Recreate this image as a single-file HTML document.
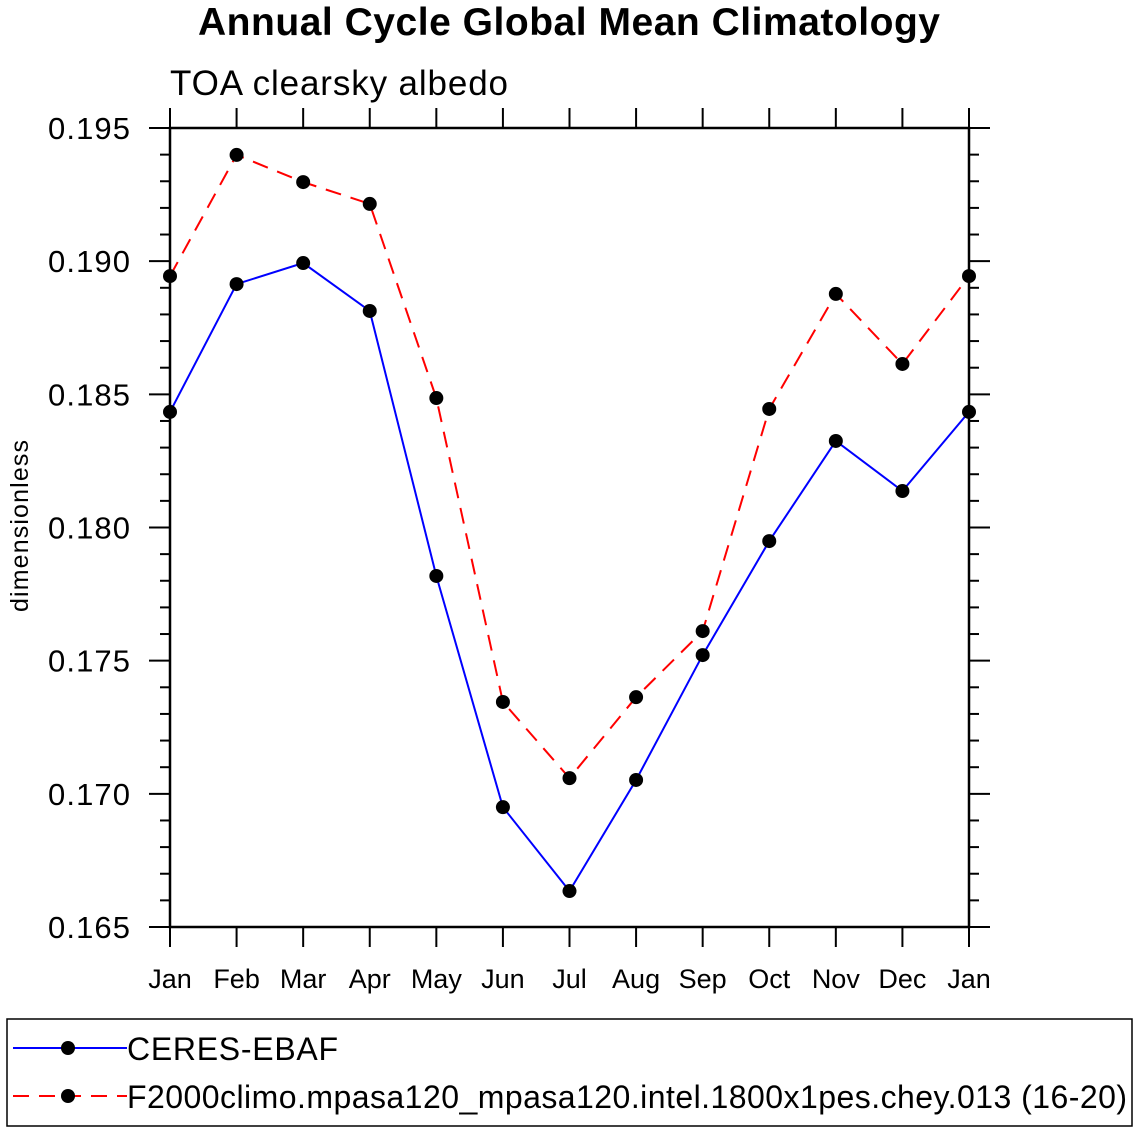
<!DOCTYPE html>
<html><head><meta charset="utf-8"><style>
body{margin:0;background:#fff;}
svg{display:block;font-family:"Liberation Sans",sans-serif;}
</style></head><body>
<svg id="chart" width="1138" height="1132">
<text x="569" y="35" text-anchor="middle" font-size="39" font-weight="bold" textLength="742">Annual Cycle Global Mean Climatology</text>
<text x="170" y="95" font-size="35" textLength="338">TOA clearsky albedo</text>
<text transform="translate(28,526) rotate(-90)" text-anchor="middle" font-size="25" textLength="172">dimensionless</text>
<g id="axes"></g>
<g id="series"></g>
<rect x="7" y="1019" width="1125" height="107" fill="none" stroke="#000" stroke-width="1.5"/>
<g>
<line x1="13" y1="1048" x2="127" y2="1048" stroke="#0000ff" stroke-width="2"/>
<circle cx="68" cy="1048" r="7" fill="#000"/>
<text x="127" y="1060" font-size="32" textLength="211">CERES-EBAF</text>
</g>
<g>
<line x1="13" y1="1096" x2="127" y2="1096" stroke="#ff0000" stroke-width="2" stroke-dasharray="16,10"/>
<circle cx="68" cy="1096" r="7" fill="#000"/>
<text x="127" y="1108" font-size="32" textLength="1000">F2000climo.mpasa120_mpasa120.intel.1800x1pes.chey.013 (16-20)</text>
</g>
</svg>
<script>
const months = ["Jan","Feb","Mar","Apr","May","Jun","Jul","Aug","Sep","Oct","Nov","Dec","Jan"];
const ceres = [0.18434,0.18914,0.18993,0.18813,0.17818,0.16950,0.16635,0.17052,0.17521,0.17949,0.18325,0.18137,0.18434];
const model = [0.18944,0.19399,0.19297,0.19215,0.18486,0.17345,0.17059,0.17363,0.17611,0.18445,0.18877,0.18614,0.18944];
const yTicks = [0.165,0.170,0.175,0.180,0.185,0.190,0.195];
const yTickLabels = ["0.165","0.170","0.175","0.180","0.185","0.190","0.195"];

const L=170,R=969,T=128,B=927,ymin=0.165,ymax=0.195;
const xs=i=>L+(R-L)*i/(months.length-1);
const ys=v=>B-(v-ymin)/(ymax-ymin)*(B-T);
const NS="http://www.w3.org/2000/svg";
function mk(tag,attrs,parent){const e=document.createElementNS(NS,tag);for(const k in attrs)e.setAttribute(k,attrs[k]);parent.appendChild(e);return e;}
const ax=document.getElementById('axes');
const frame=mk('rect',{x:L,y:T,width:R-L,height:B-T,fill:'none',stroke:'#000','stroke-width':2.5},ax);


for(let k=0;k<=30;k++){
  const v=ymin+k*0.001, y=ys(v), major=k%5===0, len=major?21:10;
  mk('line',{x1:L-len,y1:y,x2:L,y2:y,stroke:'#000','stroke-width':2},ax);
  mk('line',{x1:R,y1:y,x2:R+len,y2:y,stroke:'#000','stroke-width':2},ax);
}
yTicks.forEach((v,i)=>{
  const t=mk('text',{x:130,y:ys(v)+11,'text-anchor':'end','font-size':31,textLength:82},ax);
  t.textContent=yTickLabels[i];
  
  
});
months.forEach((m,i)=>{
  const x=xs(i);
  mk('line',{x1:x,y1:T-20,x2:x,y2:T,stroke:'#000','stroke-width':2},ax);
  mk('line',{x1:x,y1:B,x2:x,y2:B+20,stroke:'#000','stroke-width':2},ax);
  const t=mk('text',{x:x,y:988,'text-anchor':'middle','font-size':27},ax);
  t.textContent=m;
  
  
});
const sg=document.getElementById('series');
function draw(vals,color,dash,name){
  const g=mk('g',{},sg);
  
  
  const pts=vals.map((v,i)=>xs(i)+','+ys(v)).join(' ');
  const a={points:pts,fill:'none',stroke:color,'stroke-width':2};
  if(dash)a['stroke-dasharray']=dash;
  mk('polyline',a,g);
  vals.forEach((v,i)=>{
    const c=mk('circle',{cx:xs(i),cy:ys(v),r:7,fill:'#000'},g);
    
    
  });
}
draw(ceres,'#0000ff',null,'series-ceres-ebaf');
draw(model,'#ff0000','16,10','series-model');
</script>
</body></html>
